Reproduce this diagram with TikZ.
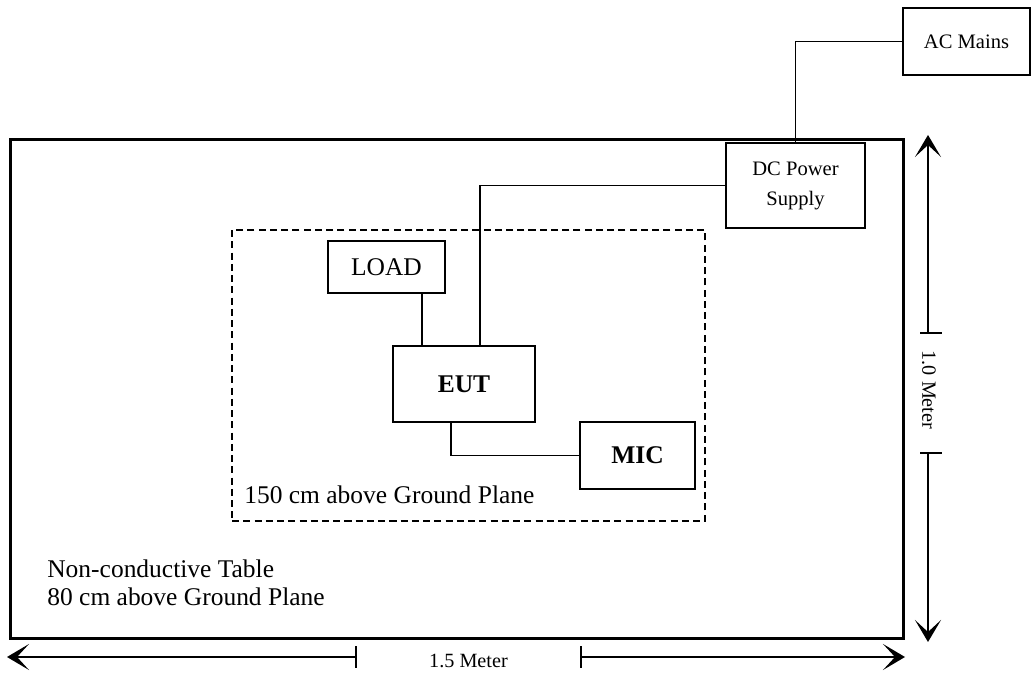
\documentclass[tikz,border=0pt]{standalone}
\usepackage{fontspec}
\setmainfont{Liberation Serif}
\usetikzlibrary{arrows.meta,calc}

\begin{document}
\begin{tikzpicture}[
  x=0.02cm, y=-0.02cm,
  every node/.style={font=\fontsize{14.5}{16}\selectfont},
  % Boxes of the test set-up; sizes are the outer line of each box
  unit/.style={
    draw=black,
    line width=0.9pt,
    inner sep=0pt,
    align=center
  },
  wire/.style={draw=black, line width=0.9pt},
  dim/.style={draw=black, line width=1pt},
  dimtip/.style={-{Stealth[length=4.4mm, width=5.2mm, inset=2.4mm]}},
  dimlabel/.style={font=\fontsize{11.5}{14}\selectfont, inner sep=0pt},
  smalltext/.style={font=\fontsize{11.7}{17}\selectfont}
]

\useasboundingbox (0,0) rectangle (1035,675);

% Table and the raised zone on it
\node[draw=black, line width=1.7pt, minimum width=17.88cm, minimum height=10cm, inner sep=0pt] (table) at (457,389) {};
\node[draw=black, line width=0.9pt, dash pattern=on 4pt off 2.4pt, minimum width=9.46cm, minimum height=5.82cm, inner sep=0pt] (zone) at (468.5,375.5) {};

\node[anchor=west, align=left, inner sep=0pt, font=\fontsize{14.5}{16}\selectfont] (tablenote) at (47,583) {Non-conductive Table\\80 cm above Ground Plane};
\node[anchor=base west, inner sep=0pt] (zonenote) at (244,503) {150 cm above Ground Plane};

% Equipment
\node[unit, smalltext, minimum width=2.54cm, minimum height=1.34cm] (ac) at (966.5,41.5) {AC Mains};
\node[unit, smalltext, minimum width=2.78cm, minimum height=1.70cm] (dc) at (795.5,185.5) {DC Power\\Supply};
\node[unit, minimum width=2.34cm, minimum height=1.04cm] (load) at (386.5,267) {LOAD};
\node[unit, minimum width=2.84cm, minimum height=1.52cm] (eut) at (464,384) {\textbf{EUT}};
\node[unit, minimum width=2.30cm, minimum height=1.34cm] (mic) at (637.5,455.5) {\textbf{MIC}};

% Cables
\draw[wire] (ac.west) -| (dc.north);
\draw[wire] (dc.west) -| ([xshift=0.32cm]eut.north);
\draw[wire] ([xshift=0.71cm]load.south) -- ([xshift=0.71cm]load.south |- eut.north);
\draw[wire] ([xshift=-0.26cm]eut.south) |- (mic.west);

% Width of the table
\coordinate (wleft) at (7,657);
\coordinate (wleftbar) at (356,657);
\coordinate (wrightbar) at (581,657);
\coordinate (wright) at (905,657);
\draw[dim, dimtip] (wleftbar) -- (wleft);
\draw[dim, dimtip] (wrightbar) -- (wright);
\draw[dim] ($(wleftbar)+(0,-11)$) -- ($(wleftbar)+(0,11)$);
\draw[dim] ($(wrightbar)+(0,-11)$) -- ($(wrightbar)+(0,11)$);
\node[dimlabel] (wlabel) at (468.5,661) {1.5 Meter};

% Depth of the table
\coordinate (dtop) at (928,135);
\coordinate (dtopbar) at (928,333);
\coordinate (dbotbar) at (928,453);
\coordinate (dbot) at (928,642);
\draw[dim, dimtip] (dtopbar) -- (dtop);
\draw[dim, dimtip] (dbotbar) -- (dbot);
\draw[dim] ($(dtopbar)+(-8,0)$) -- ($(dtopbar)+(14,0)$);
\draw[dim] ($(dbotbar)+(-8,0)$) -- ($(dbotbar)+(14,0)$);
\node[dimlabel, rotate=-90] (dlabel) at (929,390) {1.0 Meter};

\end{tikzpicture}
\end{document}
